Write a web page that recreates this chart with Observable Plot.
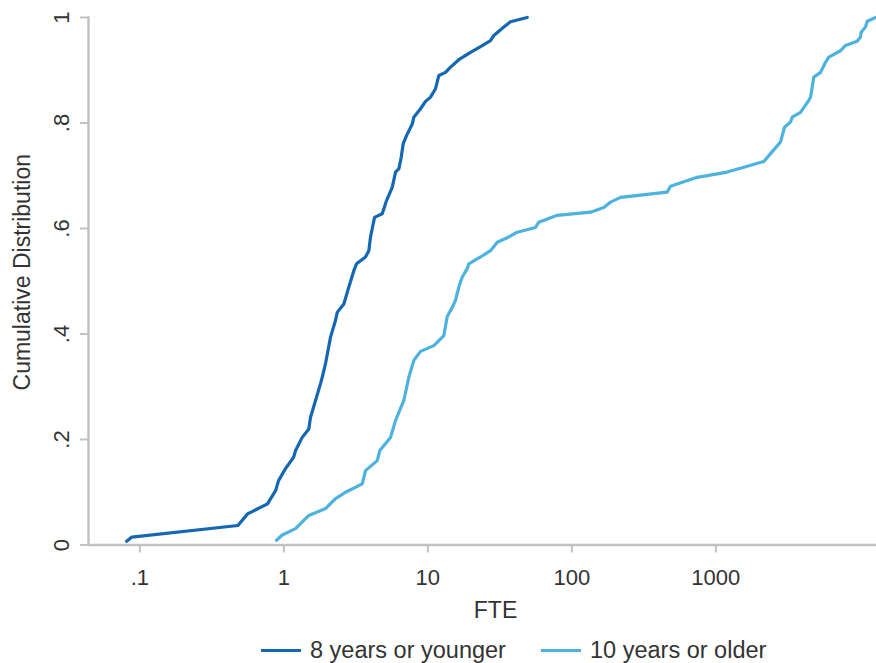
<!DOCTYPE html>
<html>
<head>
<meta charset="utf-8">
<script src="https://cdn.jsdelivr.net/npm/d3@7"></script>
<script src="https://cdn.jsdelivr.net/npm/@observablehq/plot@0.6"></script>
<style>
  body { margin: 0; background: #fff; font-family: "Liberation Sans", Arial, sans-serif; }
  #legend { position: relative; width: 876px; height: 44px; }
  .item { position: absolute; top: 0; height: 44px; display: flex; align-items: center; font-size: 23.5px; color: #333; white-space: nowrap; }
  .swatch { display: inline-block; width: 40px; height: 0; border-top: 3px solid; margin-right: 9px; }
</style>
</head>
<body>
<div id="chart"></div>
<div id="legend"></div>
<script>
const seriesNames = ["8 years or younger", "10 years or older"];
const seriesColors = ["#1467b0", "#4db2de"];

const youngFTE = [0.081,0.088,0.48,0.56,0.77,0.876,0.919,1.028,1.168,1.206,1.342,1.491,1.532,1.66,1.798,1.848,1.948,2.11,2.286,2.349,2.61,2.828,3.063,3.198,3.693,3.893,4.0,4.265,4.824,5.167,5.66,5.967,6.289,6.536,6.749,7.114,7.794,7.995,8.898,9.64,10.44,11.31,11.92,13.27,14.38,16.42,19.8,23.23,27.25,28.73,33.71,37.52,49.0];
const youngCum = [0.007,0.015,0.037,0.059,0.078,0.103,0.122,0.145,0.166,0.179,0.204,0.220,0.242,0.274,0.306,0.318,0.344,0.394,0.426,0.441,0.457,0.489,0.520,0.533,0.546,0.558,0.584,0.621,0.628,0.653,0.678,0.707,0.713,0.735,0.761,0.776,0.798,0.811,0.827,0.841,0.849,0.865,0.890,0.896,0.906,0.920,0.934,0.945,0.956,0.966,0.982,0.992,1.0];

const oldFTE = [0.89,0.975,1.206,1.491,1.948,2.286,2.683,3.503,3.693,4.453,4.642,5.508,5.967,6.813,7.38,7.995,8.898,11.01,12.92,13.64,14.77,15.57,16.42,17.34,18.77,19.26,23.23,27.25,30.34,36.52,41.77,55.97,59.0,79.15,134.9,166.8,185.7,217.9,459.7,484.6,742.9,1200,1565,2154,2399,2813,3000,3303,3393,3874,4424,4546,4794,5336,5779,6090,7345,7957,9592,10110,10220,10960,11260,12850];
const oldCum = [0.009,0.019,0.031,0.056,0.069,0.088,0.100,0.116,0.141,0.160,0.179,0.204,0.236,0.274,0.318,0.350,0.367,0.378,0.397,0.433,0.450,0.464,0.489,0.508,0.524,0.533,0.546,0.558,0.574,0.584,0.593,0.602,0.612,0.625,0.631,0.640,0.650,0.659,0.669,0.680,0.697,0.707,0.716,0.727,0.742,0.764,0.792,0.802,0.811,0.820,0.843,0.849,0.887,0.896,0.915,0.925,0.937,0.947,0.955,0.963,0.972,0.982,0.993,1.0];

const xTicks = [0.1, 1, 10, 100, 1000];
const xTickLabels = [".1", "1", "10", "100", "1000"];
const yTicks = [0, 0.2, 0.4, 0.6, 0.8, 1];
const yTickLabels = ["0", ".2", ".4", ".6", ".8", "1"];
const xDomain = [0.044, 13060];
const xTitle = "FTE";
const yTitle = "Cumulative Distribution";

const data = [
  ...youngFTE.map((v, i) => ({fte: v, cum: youngCum[i], group: seriesNames[0]})),
  ...oldFTE.map((v, i) => ({fte: v, cum: oldCum[i], group: seriesNames[1]}))
];

const gray = "#c2c2c2";
const textColor = "#333";

const chart = Plot.plot({
  width: 876,
  height: 628,
  marginLeft: 88,
  marginRight: 0,
  marginTop: 17,
  marginBottom: 83.5,
  style: {fontFamily: "'Liberation Sans', Arial, sans-serif", background: "#fff"},
  x: {type: "log", domain: xDomain},
  y: {domain: [0, 1]},
  color: {domain: seriesNames, range: seriesColors},
  marks: [
    Plot.frame({anchor: "left", stroke: gray, strokeWidth: 2.5}),
    Plot.frame({anchor: "bottom", stroke: gray, strokeWidth: 2.5}),
    Plot.axisX(xTicks, {tickFormat: (d) => xTickLabels[xTicks.indexOf(d)], tickSize: 8, tickPadding: 16, stroke: gray, strokeWidth: 2, fill: textColor, fontSize: 22, label: null}),
    Plot.axisY(yTicks, {tickFormat: (d) => yTickLabels[yTicks.indexOf(d)], tickSize: 8, tickPadding: 12, tickRotate: -90, stroke: gray, strokeWidth: 2, fill: textColor, fontSize: 22, label: null}),
    Plot.line(data, {x: "fte", y: "cum", z: "group", stroke: "group", strokeWidth: 3.2, strokeLinejoin: "round", strokeLinecap: "round"}),
    Plot.text([yTitle], {text: d => d, frameAnchor: "left", rotate: -90, dx: -65.5, dy: -9, textAnchor: "middle", lineAnchor: "middle", fontSize: 23, fill: textColor}),
    Plot.text([xTitle], {text: d => d, frameAnchor: "bottom", dx: 13, dy: 66, textAnchor: "middle", lineAnchor: "middle", fontSize: 23, fill: textColor})
  ]
});
document.getElementById("chart").appendChild(chart);

const legend = document.getElementById("legend");
const legendLefts = [261, 541];
seriesNames.forEach((name, i) => {
  const item = document.createElement("div");
  item.className = "item";
  item.style.left = legendLefts[i] + "px";
  const sw = document.createElement("span");
  sw.className = "swatch";
  sw.style.borderTopColor = seriesColors[i];
  item.appendChild(sw);
  item.appendChild(document.createTextNode(name));
  legend.appendChild(item);
});
</script>
</body>
</html>
